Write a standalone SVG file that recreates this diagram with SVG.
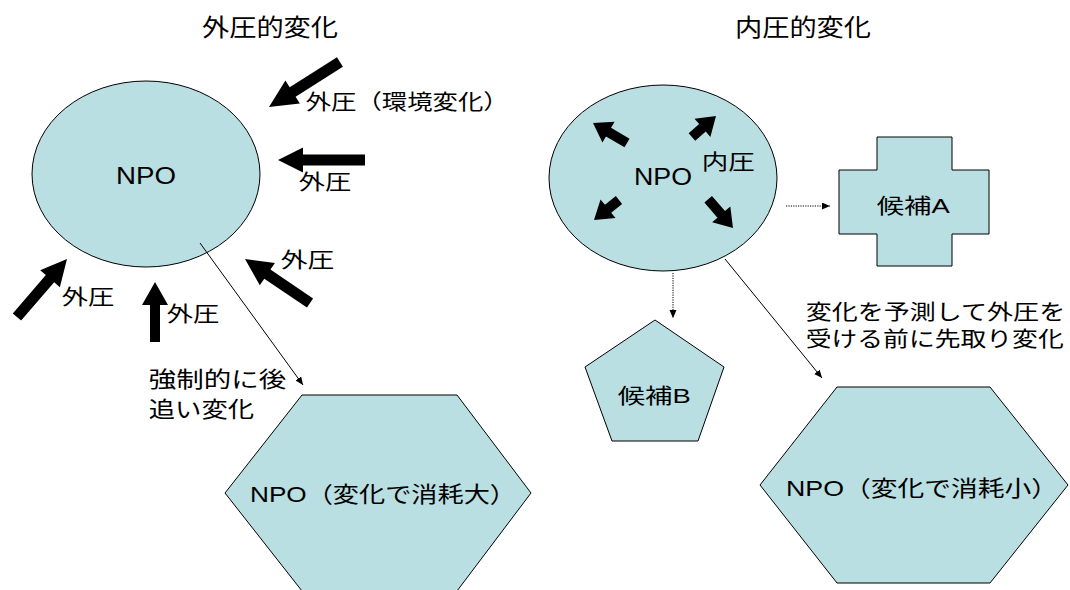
<svg xmlns="http://www.w3.org/2000/svg" width="1070" height="590" viewBox="0 0 1070 590">
<style>
text{font-family:"Liberation Sans","Noto Sans CJK JP",sans-serif;fill:#000;}
.shape{fill:#B9DFE2;stroke:#000;stroke-width:1;}
.big{fill:#000;}
.conn{stroke:#000;stroke-width:1;fill:none;}
.dot{stroke-dasharray:1.2 1.2;}
.t24{font-size:24px;}
.t22{font-size:22px;}
.t21{font-size:21px;}
</style>
<defs>
<marker id="ah" markerUnits="userSpaceOnUse" markerWidth="9" markerHeight="8" refX="8" refY="3.5" orient="auto">
<path d="M0,0 L8,3.5 L0,7 Z" fill="#000"/>
</marker>
</defs>
<rect width="1070" height="590" fill="#fff"/>

<g id="titles">
<text class="t24" x="202" y="35.5" textLength="136" lengthAdjust="spacingAndGlyphs">外圧的変化</text>
<text class="t24" x="735" y="35.5" textLength="136" lengthAdjust="spacingAndGlyphs">内圧的変化</text>
</g>

<g id="npo-left">
<ellipse class="shape" cx="146" cy="174" rx="114" ry="93"/>
<text class="t24" x="116" y="184" textLength="60" lengthAdjust="spacingAndGlyphs">NPO</text>
</g>

<g id="external-arrows">
<path class="big" transform="translate(269,107) rotate(147.6)" d="M0,0 L-28,-13.5 L-28,-5.5 L-84,-5.5 L-84,5.5 L-28,5.5 L-28,13.5 Z"/>
<path class="big" transform="translate(278,160) rotate(180)" d="M0,0 L-25,-12.5 L-25,-5.5 L-87,-5.5 L-87,5.5 L-25,5.5 L-25,12.5 Z"/>
<path class="big" transform="translate(245,259) rotate(214.1)" d="M0,0 L-27,-13.5 L-27,-5.5 L-78.5,-5.5 L-78.5,5.5 L-27,5.5 L-27,13.5 Z"/>
<path class="big" transform="translate(67,259) rotate(-49.2)" d="M0,0 L-26,-13 L-26,-5.5 L-76.6,-5.5 L-76.6,5.5 L-26,5.5 L-26,13 Z"/>
<path class="big" transform="translate(155,282) rotate(-90)" d="M0,0 L-23,-13 L-23,-5 L-60,-5 L-60,5 L-23,5 L-23,13 Z"/>
<text class="t21" x="305.7" y="109" textLength="203" lengthAdjust="spacingAndGlyphs">外圧（環境変化）</text>
<text class="t21" x="298.7" y="189" textLength="52.5" lengthAdjust="spacingAndGlyphs">外圧</text>
<text class="t21" x="280.7" y="267" textLength="53.5" lengthAdjust="spacingAndGlyphs">外圧</text>
<text class="t21" x="61.7" y="304" textLength="52.5" lengthAdjust="spacingAndGlyphs">外圧</text>
<text class="t21" x="166.7" y="321" textLength="52.5" lengthAdjust="spacingAndGlyphs">外圧</text>
</g>

<g id="npo-left-result">
<polygon class="shape" points="302,395 457,395 531,493 457,591 302,591 225,493"/>
<text class="t22" x="250" y="502" textLength="266" lengthAdjust="spacingAndGlyphs">NPO（変化で消耗大）</text>
</g>

<g id="npo-right">
<ellipse class="shape" cx="663" cy="178" rx="114" ry="93"/>
<text class="t24" x="634" y="185" textLength="58" lengthAdjust="spacingAndGlyphs">NPO</text>
<text class="t21" x="701.7" y="169" textLength="53" lengthAdjust="spacingAndGlyphs">内圧</text>
<path class="big" transform="translate(593,123) rotate(210.5)" d="M0,0 L-18,-12 L-18,-5 L-39.5,-5 L-39.5,5 L-18,5 L-18,12 Z"/>
<path class="big" transform="translate(716,116) rotate(-41.2)" d="M0,0 L-18,-12 L-18,-5 L-32,-5 L-32,5 L-18,5 L-18,12 Z"/>
<path class="big" transform="translate(594,220) rotate(141.3)" d="M0,0 L-18,-12 L-18,-5 L-32,-5 L-32,5 L-18,5 L-18,12 Z"/>
<path class="big" transform="translate(733,228) rotate(49.2)" d="M0,0 L-18,-12 L-18,-5 L-38,-5 L-38,5 L-18,5 L-18,12 Z"/>
</g>

<g id="candidate-a">
<polygon class="shape" points="877,137 952,137 952,170 989,170 989,234 952,234 952,266 877,266 877,234 839,234 839,170 877,170"/>
<text class="t21" x="876.7" y="213" textLength="73" lengthAdjust="spacingAndGlyphs">候補A</text>
</g>

<g id="candidate-b">
<polygon class="shape" points="655,320 724,367 698,441 612,441 585,367"/>
<text class="t21" x="617.7" y="403" textLength="73" lengthAdjust="spacingAndGlyphs">候補B</text>
</g>

<g id="npo-right-result">
<polygon class="shape" points="837,387 990,387 1068,485 990,583 837,583 760,485"/>
<text class="t22" x="786" y="496" textLength="272" lengthAdjust="spacingAndGlyphs">NPO（変化で消耗小）</text>
</g>

<g id="connectors">
<line class="conn" x1="200" y1="243" x2="303" y2="385" marker-end="url(#ah)"/>
<line class="conn" x1="725" y1="259" x2="822" y2="378" marker-end="url(#ah)"/>
<line class="conn dot" x1="786" y1="206" x2="830" y2="206" marker-end="url(#ah)"/>
<line class="conn dot" x1="673" y1="273" x2="673" y2="318" marker-end="url(#ah)"/>
</g>

<g id="labels">
<text class="t22" x="148.7" y="386.5" textLength="137.5" lengthAdjust="spacingAndGlyphs">強制的に後</text>
<text class="t22" x="148.7" y="416.5" textLength="105.5" lengthAdjust="spacingAndGlyphs">追い変化</text>
<text class="t21" x="805.7" y="319" textLength="259.5" lengthAdjust="spacingAndGlyphs">変化を予測して外圧を</text>
<text class="t21" x="805.7" y="346" textLength="258" lengthAdjust="spacingAndGlyphs">受ける前に先取り変化</text>
</g>
</svg>
